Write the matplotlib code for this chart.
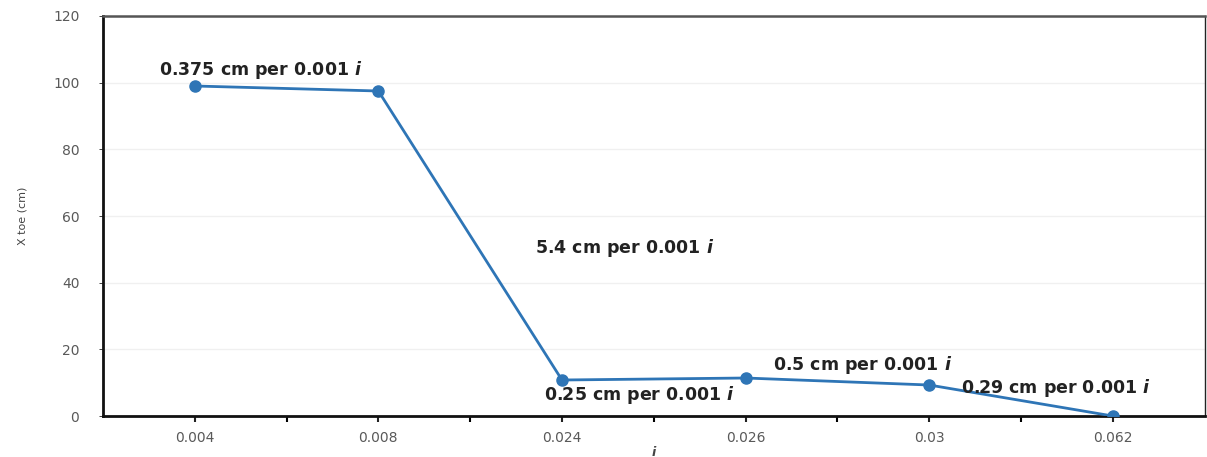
import matplotlib
matplotlib.use("Agg")
import matplotlib.pyplot as plt
import numpy as np

categories = ["0.004", "0.008", "0.024", "0.026", "0.03", "0.062"]
x_toe = [99.0, 97.5, 10.8, 11.4, 9.3, 0.0]
annotations = [
    ("0.375 cm per 0.001 $i$", 0.36, 103.8),
    ("5.4 cm per 0.001 $i$", 2.34, 50.4),
    ("0.25 cm per 0.001 $i$", 2.42, 6.3),
    ("0.5 cm per 0.001 $i$", 3.64, 15.2),
    ("0.29 cm per 0.001 $i$", 4.69, 8.4),
]

plt.rcParams['mathtext.fontset'] = 'custom'
plt.rcParams['mathtext.it'] = 'DejaVu Sans:bold:italic'
plt.rcParams['mathtext.rm'] = 'DejaVu Sans:bold'

fig = plt.figure(figsize=(12.07, 4.57), dpi=100)
ax = fig.add_axes([0.0853, 0.0897, 0.9127, 0.8753])

xs = np.arange(len(categories))
ax.plot(xs, x_toe, color="#2E75B6", lw=2, marker="o", ms=8, zorder=3)

ax.set_xlim(-0.5, len(categories) - 0.5)
ax.set_ylim(0, 120)
ax.set_yticks(np.arange(0, 121, 20))
ax.set_xticks(xs)
ax.set_xticklabels(categories)
ax.set_xticks(xs[:-1] + 0.5, minor=True)
ax.grid(axis="y", color="#F0F0F0", lw=1)
ax.set_axisbelow(True)

ax.tick_params(axis="both", colors="#222222", labelcolor="#595959", labelsize=10)
ax.tick_params(axis="x", which="both", length=4, width=1.5, direction="out", pad=7)
ax.tick_params(axis="y", length=3, width=0.6, pad=14)

for s in ["left", "bottom"]:
    ax.spines[s].set_linewidth(2)
    ax.spines[s].set_color("#111111")
ax.spines["top"].set_linewidth(1.8)
ax.spines["top"].set_color("#555555")
ax.spines["right"].set_linewidth(1)
ax.spines["right"].set_color("#222222")

for txt, xi, yi in annotations:
    ax.text(xi, yi, txt, ha="center", va="center", fontsize=12.5,
            fontweight="bold", color="#222222", zorder=4)

ax.set_ylabel("X toe (cm)", fontsize=8, color="#444444", labelpad=18)
ax.set_xlabel("$i$", fontsize=9, color="#444444", labelpad=0)

fig.savefig("out.png", dpi=100)
